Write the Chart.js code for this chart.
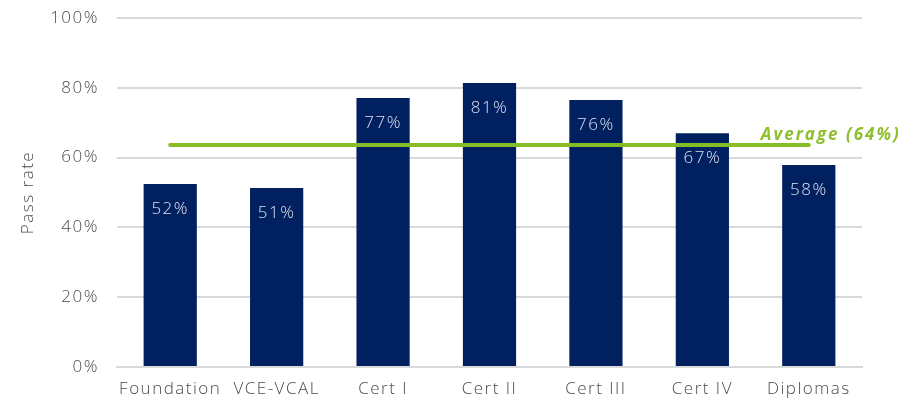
<!DOCTYPE html>
<html><head><meta charset="utf-8">
<script src="https://cdn.jsdelivr.net/npm/chart.js@4/dist/chart.umd.min.js"></script>
<style>html,body{margin:0;padding:0;background:#fff}#wrap{width:917px;height:402px}</style>
</head><body><div id="wrap"><canvas id="c" width="917" height="402"></canvas></div>
<script>
const categories = ["Foundation","VCE-VCAL","Cert I","Cert II","Cert III","Cert IV","Diplomas"];
const passRates = [52.4, 51.3, 77.1, 81.4, 76.5, 67.0, 57.9];
const barLabels = ["52%","51%","77%","81%","76%","67%","58%"];
const averageRate = 63.6;
const averageLabel = "Average (64%)";
const yTicks = [0,20,40,60,80,100];

const FONT = "'Open Sans', sans-serif";

const spacingPlugin = {
  id: 'spacing',
  beforeLayout(chart) { chart.ctx.letterSpacing = '1.5px'; },
  beforeDraw(chart) { chart.ctx.letterSpacing = '1.5px'; }
};

const labelPlugin = {
  id: 'labels',
  afterDatasetsDraw(chart) {
    const ctx = chart.ctx;
    const meta = chart.getDatasetMeta(1);
    ctx.save();
    ctx.letterSpacing = '1.5px';
    ctx.font = "300 17px " + FONT;
    ctx.fillStyle = "#dde1f0";
    ctx.textAlign = "center";
    ctx.textBaseline = "middle";
    meta.data.forEach((bar, i) => {
      ctx.fillText(barLabels[i], bar.x, bar.y + 25);
    });
    const xs = chart.scales.x, ys = chart.scales.y;
    ctx.letterSpacing = '2px';
    ctx.font = "bold italic 17px " + FONT;
    ctx.fillStyle = "#8dbf2e";
    ctx.textAlign = "left";
    ctx.fillText(averageLabel, xs.getPixelForValue(categories.length - 1) - 48, ys.getPixelForValue(averageRate) - 10);
    ctx.restore();
  }
};

new Chart(document.getElementById('c'), {
  data: {
    labels: categories,
    datasets: [
      { type: 'line', data: categories.map(() => averageRate), borderColor: '#86bc25', borderWidth: 4,
        pointRadius: 0, fill: false, order: 0, borderCapStyle: 'round' },
      { type: 'bar', data: passRates, backgroundColor: '#00205f', barPercentage: 0.5, categoryPercentage: 1, order: 1 }
    ]
  },
  options: {
    responsive: false, animation: false,
    layout: { padding: { top: 18, right: 55, left: 0, bottom: 0 } },
    plugins: { legend: { display: false }, tooltip: { enabled: false } },
    scales: {
      x: {
        grid: { display: false, drawTicks: false },
        border: { display: true, color: '#d9d9d9', width: 2 },
        ticks: { color: '#4a4a4a', font: { family: FONT, size: 17, weight: 300 }, padding: 12, maxRotation: 0, autoSkip: false },
        afterFit(s) { s.height = 35; s.paddingLeft = 0; s.paddingRight = 0; }
      },
      y: {
        min: 0, max: 100,
        afterBuildTicks(s) { s.ticks = yTicks.map(v => ({ value: v })); },
        grid: { color: '#d9d9d9', lineWidth: 2, drawTicks: false },
        border: { display: false },
        ticks: { color: '#4a4a4a', font: { family: FONT, size: 17, weight: 300 }, padding: 18, callback: v => v + '%' },
        title: { display: true, text: 'Pass rate', color: '#4a4a4a', font: { family: FONT, size: 17, weight: 300 }, padding: { top: 18, bottom: 0 } },
        afterFit(s) { s.width = 117; s.paddingTop = 0; s.paddingBottom = 0; }
      }
    }
  },
  plugins: [spacingPlugin, labelPlugin]
});
</script></body></html>
